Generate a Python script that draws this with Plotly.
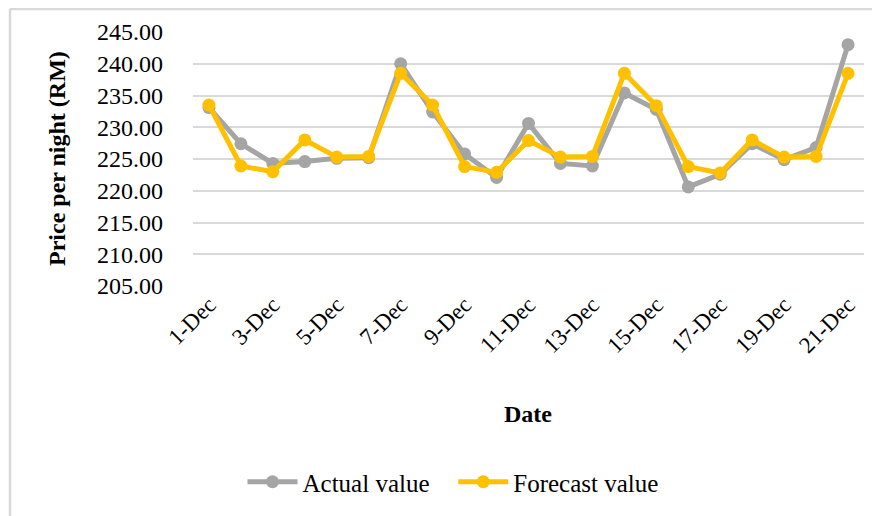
import plotly.graph_objects as go

dates = [f"{d}-Dec" for d in range(1, 22)]
actual = [233.1, 227.4, 224.3, 224.6, 225.1, 225.2, 240.0, 232.4, 225.8, 222.1, 230.6,
          224.3, 223.9, 235.4, 232.8, 220.6, 222.6, 227.4, 224.9, 226.8, 243.0]
forecast = [233.5, 223.9, 223.0, 228.0, 225.3, 225.4, 238.5, 233.5, 223.8, 222.9, 227.9,
            225.3, 225.4, 238.5, 233.4, 223.8, 222.8, 228.0, 225.3, 225.4, 238.5]
tick_labels = dates[::2]
y_ticks = [205, 210, 215, 220, 225, 230, 235, 240, 245]

# the page body adds an 8px margin; size the figure so it fits the 880x516 window
OFF = 8
W, H = 880 - OFF, 516 - OFF
ML, MR, MT, MB = 193 - OFF, 16, 32 - OFF, 230
PW, PH = W - ML - MR, H - MT - MB


def px_x(page_x):
    return (page_x - OFF - ML) / PW


def px_y(page_y):
    return 1 - (page_y - OFF - MT) / PH


font_family = "Liberation Serif, Times New Roman, serif"

fig = go.Figure()
fig.add_trace(go.Scatter(x=dates, y=actual, name="Actual value\u00a0\u00a0\u00a0", mode="lines+markers",
                         line=dict(color="#A5A5A5", width=5),
                         marker=dict(color="#A5A5A5", size=13)))
fig.add_trace(go.Scatter(x=dates, y=forecast, name="Forecast value", mode="lines+markers",
                         line=dict(color="#FFC000", width=5),
                         marker=dict(color="#FFC000", size=13)))

fig.update_layout(
    width=W, height=H,
    margin=dict(l=ML, r=MR, t=MT, b=MB, autoexpand=False),
    paper_bgcolor="white", plot_bgcolor="white",
    font=dict(family=font_family, color="black", size=24),
    showlegend=True,
    legend=dict(orientation="h", x=px_x(453), xanchor="center", y=px_y(482),
                yanchor="middle", font=dict(size=25), traceorder="normal",
                itemwidth=50),
    xaxis=dict(type="category", categoryorder="array", categoryarray=dates,
               range=[-0.5, len(dates) - 0.5], tickmode="array", tickvals=tick_labels,
               ticktext=tick_labels, tickangle=-45, showgrid=False, showline=False,
               ticks="", tickfont=dict(size=23), zeroline=False, ticklabelstandoff=0),
    yaxis=dict(range=[205, 245], tickmode="array", tickvals=y_ticks,
               ticktext=[f"{v:.2f}" for v in y_ticks], showgrid=True,
               gridcolor="#D9D9D9", gridwidth=1.5, zeroline=False, showline=False,
               ticks="", ticklabelstandoff=29, tickfont=dict(size=24)),
)

fig.add_annotation(text="<b>Price per night (RM)</b>", xref="paper", yref="paper",
                   x=px_x(57), y=px_y(159), textangle=-90, showarrow=False,
                   font=dict(size=24), xanchor="center", yanchor="middle")
fig.add_annotation(text="<b>Date</b>", xref="paper", yref="paper",
                   x=px_x(528), y=px_y(414), showarrow=False,
                   font=dict(size=24), xanchor="center", yanchor="middle")

# chart frame (left and top edges visible in reference)
top = px_y(OFF + 1)
left = px_x(10)
fig.add_shape(type="line", xref="paper", yref="paper",
              x0=left, x1=left, y0=px_y(516), y1=top,
              line=dict(color="#D9D9D9", width=2.5))
fig.add_shape(type="line", xref="paper", yref="paper",
              x0=left, x1=px_x(880), y0=top, y1=top,
              line=dict(color="#D9D9D9", width=2.5))

fig.write_html("out.html")
